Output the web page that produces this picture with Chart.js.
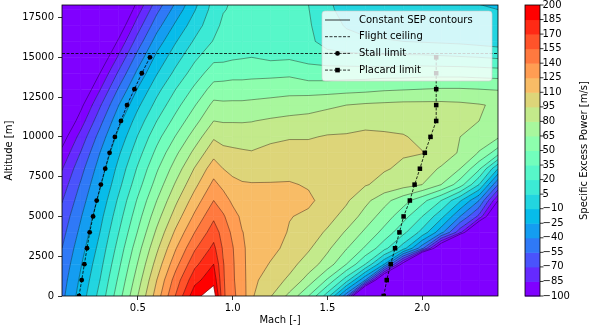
<!DOCTYPE html>
<html>
<head>
<meta charset="utf-8">
<title>Specific excess power</title>
<script src="https://cdn.jsdelivr.net/npm/chart.js@4.4.1/dist/chart.umd.min.js"></script>
<style>
  html, body { margin: 0; padding: 0; background: #fff; }
  #box { width: 590px; height: 334px; }
</style>
</head>
<body>
<div id="box"><canvas id="sepChart"></canvas></div>
<script>
// grid the SEP field is sampled on (Mach columns, altitude rows in m)
const machGrid = [0.1, 0.2, 0.3, 0.4, 0.5, 0.6, 0.7, 0.8, 0.9, 0.95, 1.0, 1.05, 1.1, 1.2, 1.3, 1.4, 1.5, 1.6, 1.7, 1.8, 1.9, 2.0, 2.1, 2.2, 2.3, 2.4];
const altGrid = [0, 1000, 2000, 3000, 4000, 5000, 6000, 7000, 8000, 9000, 10000, 11000, 12000, 13000, 14000, 15000, 16000, 17000, 18000, 19000];

// SEP [m/s], one row per altitude
const sepRows = [
  [-44, -18, 10, 44, 80, 117, 156, 195, 210, 158, 143, 134, 112, 96, 76, 50, 12, -50, -200, -250, -250, -250, -250, -250, -250, -250],
  [-47, -22, 5, 38, 73, 110, 147, 180, 195, 157, 142, 132, 114, 103, 92, 74, 48, 12, -40, -150, -250, -250, -250, -250, -250, -250],
  [-51, -26, 0, 32, 66, 101, 135, 166, 185, 156, 142, 129, 118, 109, 100, 88, 73, 50, 20, -25, -110, -250, -250, -250, -250, -250],
  [-55, -31, -5, 26, 59, 92, 124, 153, 174, 153, 141, 127, 121, 114, 106, 97, 83, 66, 48, 25, -3, -50, -130, -250, -250, -250],
  [-60, -36, -10, 20, 51, 83, 113, 140, 163, 149, 137, 125.5, 121, 116, 109, 102, 93, 78, 62, 45, 24, 0, -35, -80, -160, -250],
  [-65, -41, -15, 14, 44, 74, 102, 128, 152, 142, 131, 122, 119, 117, 110.5, 108, 100, 90, 74, 58, 41, 20, -5, -40, -74, -140],
  [-71, -47, -21, 8, 37, 65, 92, 117, 140, 132, 122, 117, 116, 116, 113, 112, 106, 97, 84, 70, 56, 40, 20, -8, -40, -100],
  [-78, -53, -27, 1, 29, 56, 82, 106, 129, 121, 114, 111.5, 111, 111, 111, 109, 104, 100, 96, 91, 86, 80, 65, 42, 5, -55],
  [-86, -60, -33, -5, 22, 48, 72, 96, 118, 110, 106, 104, 103, 104, 106, 105, 102, 100, 98, 96, 93, 88, 78, 65, 38, -10],
  [-96, -69, -40, -12, 14, 39, 62, 84, 105, 100, 98, 97, 96, 99, 100, 100, 99, 98, 97, 97, 96, 95.5, 90, 78, 64, 42],
  [-108, -79, -49, -20, 6, 30, 51, 72, 93, 89, 89, 88, 88, 92, 94, 94, 96, 96.5, 98, 97, 96, 92, 86, 80, 73, 67],
  [-122, -92, -60, -29, -3, 20, 40, 60, 80, 79, 79, 79, 79.5, 82, 84, 85, 88, 89, 91, 91, 90, 89, 87, 84, 80, 76],
  [-135, -104, -72, -40, -13, 10, 30, 49, 69, 68, 68, 68, 69, 70, 72, 74, 77, 80, 82, 83, 84, 84, 84, 83, 81, 78],
  [-150, -118, -86, -53, -24, 0, 20, 38, 56, 56, 57, 57, 57, 59, 60, 59, 59, 60, 61, 63, 64, 65, 66, 66, 65, 64],
  [-165, -133, -100, -67, -36, -11, 9, 27, 43, 44, 45, 45, 46, 46, 47, 42, 42, 43, 43, 44, 44, 45, 45, 45, 44, 43],
  [-180, -148, -115, -82, -49, -21, -1, 17, 31, 31, 33, 34, 35, 32, 33, 30, 27, 25, 24, 23, 23, 23, 22, 21, 20, 18],
  [-195, -163, -130, -97, -63, -33, -11, 7, 21, 27, 28, 29, 30, 28, 27, 24, 13, 9, 7, 6, 5, 4, 3, 2, 0, -2],
  [-210, -178, -145, -112, -77, -46, -22, -2, 15, 23, 25, 26, 27, 26, 25, 22, 10, 4, 1, 0, -1, -2, -3, -4, -5, -6],
  [-225, -193, -160, -127, -91, -59, -34, -11, 11, 19, 22, 23, 25, 25, 24, 20.5, 8, 0, -3, -4, -5, -6, -7, -8, -9, -10],
  [-240, -208, -175, -142, -105, -72, -46, -20, 7, 16, 20, 21, 23, 24, 23, 19, 6, -3, -6, -7, -8, -9, -10, -11, -12, -14]
];

const sepLevels = [-100, -85, -70, -55, -40, -25, -10, 5, 20, 35, 50, 65, 80, 95, 110, 125, 140, 155, 170, 185, 200];
const machTicks = [0.5, 1.0, 1.5, 2.0];
const altTicks = [0, 2500, 5000, 7500, 10000, 12500, 15000, 17500];
const machRange = [0.1, 2.4];
const altRange = [0, 18288];

const stallAlt = [0, 1000, 2000, 3000, 4000, 5000, 6000, 7000, 8000, 9000, 10000, 11000, 12000, 13000, 14000, 15000];
const stallMach = [0.19, 0.204, 0.218, 0.232, 0.246, 0.264, 0.283, 0.305, 0.328, 0.351, 0.379, 0.411, 0.443, 0.482, 0.521, 0.564];
const placardAlt = [0, 1000, 2000, 3000, 4000, 5000, 6000, 7000, 8000, 9000, 10000, 11000, 12000, 13000, 14000, 15000];
const placardMach = [1.797, 1.813, 1.834, 1.857, 1.88, 1.902, 1.935, 1.96, 1.988, 2.014, 2.044, 2.074, 2.074, 2.074, 2.074, 2.074];
const ceilingAlt = 15240;

const FONT = 'DejaVu Sans';

// matplotlib "rainbow"
function rainbow(t) {
    const r = Math.min(1, Math.abs(2 * t - 0.5));
    const g = Math.sin(Math.PI * t);
    const b = Math.cos(Math.PI * t / 2);
    return 'rgb(' + Math.round(r * 255) + ',' + Math.round(g * 255) + ',' + Math.round(b * 255) + ')';
}
const bandColors = sepLevels.slice(0, -1).map((_, k) => rainbow(k / (sepLevels.length - 2)));

function minusSign(v) {
    return v < 0 ? '\u2212' + Math.abs(v) : String(v);
}

// keep the part of a polygon above (or below) a level, values linear along edges
function clipPoly(poly, level, keepAbove) {
    const out = [];
    for (let i = 0; i < poly.length; i++) {
        const a = poly[i], b = poly[(i + 1) % poly.length];
        const ina = keepAbove ? a.v >= level : a.v <= level;
        const inb = keepAbove ? b.v >= level : b.v <= level;
        if (ina) out.push(a);
        if (ina !== inb) {
            const t = (level - a.v) / (b.v - a.v);
            out.push({ x: a.x + t * (b.x - a.x), y: a.y + t * (b.y - a.y), v: level });
        }
    }
    return out;
}

function cellCorners(xs, ys, i, j) {
    const p = (ii, jj) => ({
        x: xs.getPixelForValue(machGrid[ii]),
        y: ys.getPixelForValue(altGrid[jj]),
        v: sepRows[jj][ii]
    });
    return [p(i, j), p(i + 1, j), p(i + 1, j + 1), p(i, j + 1)];
}

const contourPlugin = {
    id: 'sepContours',
    beforeDatasetsDraw(chart) {
        const { ctx, chartArea, scales } = chart;
        const xs = scales.x, ys = scales.y;
        ctx.save();
        ctx.beginPath();
        ctx.rect(chartArea.left, chartArea.top, chartArea.right - chartArea.left, chartArea.bottom - chartArea.top);
        ctx.clip();

        // filled bands
        ctx.lineWidth = 0.6;
        ctx.lineJoin = 'round';
        for (let j = 0; j < altGrid.length - 1; j++) {
            for (let i = 0; i < machGrid.length - 1; i++) {
                const quad = cellCorners(xs, ys, i, j);
                for (let k = 0; k < bandColors.length; k++) {
                    let poly = quad;
                    if (k > 0) poly = clipPoly(poly, sepLevels[k], true);
                    if (poly.length < 3) continue;
                    poly = clipPoly(poly, sepLevels[k + 1], false);
                    if (poly.length < 3) continue;
                    ctx.beginPath();
                    ctx.moveTo(poly[0].x, poly[0].y);
                    for (let n = 1; n < poly.length; n++) ctx.lineTo(poly[n].x, poly[n].y);
                    ctx.closePath();
                    ctx.fillStyle = bandColors[k];
                    ctx.strokeStyle = bandColors[k];
                    ctx.fill();
                    ctx.stroke();
                }
            }
        }

        // contour lines
        ctx.strokeStyle = 'rgba(0,0,0,0.55)';
        ctx.lineWidth = 0.7;
        sepLevels.forEach(level => {
            ctx.beginPath();
            for (let j = 0; j < altGrid.length - 1; j++) {
                for (let i = 0; i < machGrid.length - 1; i++) {
                    const q = cellCorners(xs, ys, i, j);
                    const hits = [];
                    for (let e = 0; e < 4; e++) {
                        const a = q[e], b = q[(e + 1) % 4];
                        if ((a.v >= level) !== (b.v >= level)) {
                            const t = (level - a.v) / (b.v - a.v);
                            hits.push({ x: a.x + t * (b.x - a.x), y: a.y + t * (b.y - a.y) });
                        }
                    }
                    if (hits.length === 2) {
                        ctx.moveTo(hits[0].x, hits[0].y);
                        ctx.lineTo(hits[1].x, hits[1].y);
                    } else if (hits.length === 4) {
                        const pairs = q[0].v >= level ? [[0, 1], [2, 3]] : [[1, 2], [3, 0]];
                        pairs.forEach(([m, n]) => {
                            ctx.moveTo(hits[m].x, hits[m].y);
                            ctx.lineTo(hits[n].x, hits[n].y);
                        });
                    }
                }
            }
            ctx.stroke();
        });
        ctx.restore();
    },
    afterDatasetsDraw(chart) {
        const { ctx, chartArea } = chart;
        ctx.save();
        ctx.strokeStyle = '#000';
        ctx.lineWidth = 0.8;
        ctx.strokeRect(chartArea.left, chartArea.top, chartArea.right - chartArea.left, chartArea.bottom - chartArea.top);
        ctx.restore();
    },
    afterDraw(chart) {
        const { ctx, chartArea } = chart;
        const cb = chart.scales.cb;

        // colour bar
        const barLeft = chartArea.right + 27;
        const barW = 15;
        ctx.save();
        for (let k = 0; k < bandColors.length; k++) {
            const y0 = cb.getPixelForValue(sepLevels[k]);
            const y1 = cb.getPixelForValue(sepLevels[k + 1]);
            ctx.fillStyle = bandColors[k];
            ctx.fillRect(barLeft, y1, barW, y0 - y1 + 0.5);
        }
        ctx.strokeStyle = '#000';
        ctx.lineWidth = 0.8;
        ctx.strokeRect(barLeft, cb.top, barW, cb.bottom - cb.top);
        ctx.beginPath();
        sepLevels.forEach(v => {
            const y = cb.getPixelForValue(v);
            ctx.moveTo(barLeft + barW, y);
            ctx.lineTo(barLeft + barW + 3.5, y);
        });
        ctx.stroke();

        // colour bar label
        ctx.fillStyle = '#000';
        ctx.font = '10px "' + FONT + '"';
        ctx.textAlign = 'center';
        ctx.textBaseline = 'middle';
        ctx.translate(chart.width - 6, (cb.top + cb.bottom) / 2);
        ctx.rotate(-Math.PI / 2);
        ctx.fillText('Specific Excess Power [m/s]', 0, 0);
        ctx.restore();

        // legend
        ctx.save();
        const lx = 322, ly = 11, lw = 170, lh = 70;
        ctx.beginPath();
        ctx.roundRect(lx, ly, lw, lh, 3);
        ctx.fillStyle = 'rgba(255,255,255,0.8)';
        ctx.fill();
        ctx.strokeStyle = 'rgba(204,204,204,0.8)';
        ctx.lineWidth = 0.8;
        ctx.stroke();

        const items = [
            { label: 'Constant SEP contours', color: 'rgba(0,0,0,0.6)', width: 1.3, dash: [] },
            { label: 'Flight ceiling', color: '#000', width: 0.8, dash: [3, 1.5] },
            { label: 'Stall limit', color: '#000', width: 0.8, dash: [3, 1.5], marker: 'circle' },
            { label: 'Placard limit', color: '#000', width: 0.8, dash: [3, 1.5], marker: 'rect' }
        ];
        items.forEach((it, n) => {
            const y = 20 + n * 16.7;
            ctx.beginPath();
            ctx.setLineDash(it.dash);
            ctx.strokeStyle = it.color;
            ctx.lineWidth = it.width;
            ctx.moveTo(325, y);
            ctx.lineTo(350, y);
            ctx.stroke();
            ctx.setLineDash([]);
            ctx.fillStyle = '#000';
            if (it.marker === 'circle') {
                ctx.beginPath();
                ctx.arc(337.5, y, 2.4, 0, Math.PI * 2);
                ctx.fill();
            } else if (it.marker === 'rect') {
                ctx.fillRect(337.5 - 2.3, y - 2.3, 4.6, 4.6);
            }
            ctx.font = '10px "' + FONT + '"';
            ctx.textAlign = 'left';
            ctx.textBaseline = 'middle';
            ctx.fillText(it.label, 359, y);
        });
        ctx.restore();
    }
};

Chart.defaults.font.family = FONT;
Chart.defaults.font.size = 10;
Chart.defaults.color = '#000';

const tickGrid = { display: true, drawOnChartArea: false, drawTicks: true, tickLength: 4, tickColor: '#000', tickWidth: 0.8 };

// drop the automatic half-label padding so the plot box starts where the layout says
function noEdgePadding(s) {
    s.paddingTop = 0;
    s.paddingBottom = 0;
}

const ctx = document.getElementById('sepChart').getContext('2d');
const sepChart = new Chart(ctx, {
    type: 'scatter',
    data: {
        datasets: [
            {
                label: 'Placard limit',
                data: placardMach.map((m, i) => ({ x: m, y: placardAlt[i] })),
                showLine: true,
                borderColor: '#000',
                borderWidth: 0.8,
                borderDash: [3, 1.5],
                pointStyle: 'rect',
                pointRadius: 3.2,
                pointBackgroundColor: '#000',
                pointBorderWidth: 0
            },
            {
                label: 'Stall limit',
                data: stallMach.map((m, i) => ({ x: m, y: stallAlt[i] })),
                showLine: true,
                borderColor: '#000',
                borderWidth: 0.8,
                borderDash: [3, 1.5],
                pointStyle: 'circle',
                pointRadius: 2.4,
                pointBackgroundColor: '#000',
                pointBorderWidth: 0
            },
            {
                label: 'Flight ceiling',
                data: machRange.map(m => ({ x: m, y: ceilingAlt })),
                showLine: true,
                borderColor: '#000',
                borderWidth: 0.8,
                borderDash: [3, 1.5],
                pointRadius: 0
            }
        ]
    },
    options: {
        responsive: true,
        maintainAspectRatio: false,
        animation: false,
        events: [],
        layout: { padding: { top: 5, left: 0, right: 0, bottom: 0 } },
        plugins: {
            legend: { display: false },
            tooltip: { enabled: false }
        },
        scales: {
            x: {
                type: 'linear',
                min: machRange[0],
                max: machRange[1],
                afterBuildTicks: s => { s.ticks = machTicks.map(v => ({ value: v })); },
                afterFit: s => { s.height = 38; s.paddingLeft = 0; s.paddingRight = 0; },
                ticks: { callback: v => v.toFixed(1), maxRotation: 0, autoSkip: false, padding: 2 },
                grid: tickGrid,
                border: { display: false },
                title: { display: true, text: 'Mach [-]', padding: { top: 0, bottom: 8 } }
            },
            y: {
                type: 'linear',
                position: 'left',
                min: altRange[0],
                max: altRange[1],
                afterBuildTicks: s => { s.ticks = altTicks.map(v => ({ value: v })); },
                afterFit: s => { s.width = 62; noEdgePadding(s); },
                ticks: { callback: v => String(v), autoSkip: false, padding: 4 },
                grid: tickGrid,
                border: { display: false },
                title: { display: true, text: 'Altitude [m]', padding: { top: 3, bottom: 0 } }
            },
            cb: {
                type: 'linear',
                position: 'right',
                min: sepLevels[0],
                max: sepLevels[sepLevels.length - 1],
                afterBuildTicks: s => { s.ticks = sepLevels.map(v => ({ value: v })); },
                afterFit: s => { s.width = 92; noEdgePadding(s); },
                ticks: { callback: v => minusSign(v), autoSkip: false, padding: 3.5 },
                grid: { display: false, drawTicks: true, tickLength: 41 },
                border: { display: false }
            }
        }
    },
    plugins: [contourPlugin]
});
</script>
</body>
</html>
